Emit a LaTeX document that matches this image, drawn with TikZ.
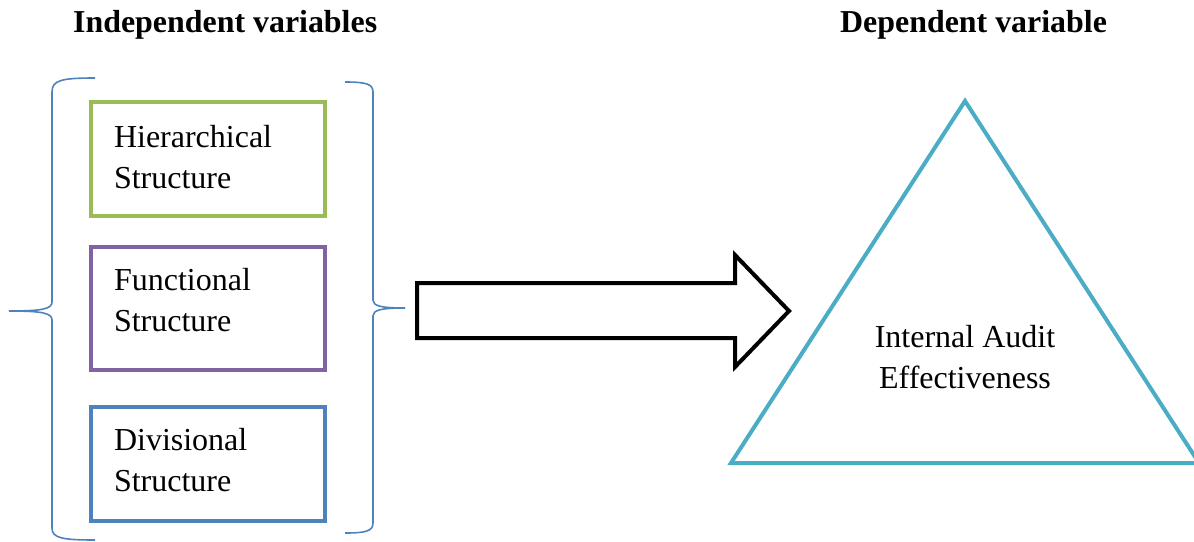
\documentclass[tikz,border=0pt]{standalone}
\usepackage{fontspec}
\setmainfont{Liberation Serif}
\definecolor{cgreen}{HTML}{9BBB59}
\definecolor{cpurple}{HTML}{8064A2}
\definecolor{cblue}{HTML}{4F81BD}
\definecolor{cteal}{HTML}{4BACC6}
\begin{document}
\begin{tikzpicture}[x=1pt,y=-1pt,
  header/.style={font=\fontsize{31.9}{36}\selectfont\bfseries, anchor=base west, inner sep=0pt},
  varbox/.style={draw=#1, line width=4pt, anchor=base west, align=left,
    text width=188pt, inner xsep=23pt, inner ysep=0pt,
    font=\fontsize{32}{41.5}\selectfont},
  brace/.style={draw=cblue, line width=1.6pt},
  bigarrow/.style={draw=black, line width=4pt, fill=white, line join=miter},
  tri/.style={draw=cteal, line width=4pt, line join=miter}]
\useasboundingbox (0,0) rectangle (1194,541);

\node[header] (hind) at (73,32) {Independent variables};
\node[header] (hdep) at (840,32) {Dependent variable};

\node[varbox=cgreen, text height=45pt, text depth=69pt] (hs) at (89,147) {Hierarchical\\Structure};
\node[varbox=cpurple, text height=43pt, text depth=80pt] (fs) at (89,290) {Functional\\Structure};
\node[varbox=cblue, text height=43pt, text depth=71pt] (ds) at (89,450) {Divisional\\Structure};

% left brace
\draw[brace] (95,78) .. controls (62,78) and (52,80) .. (52,92) -- (52,302)
  .. controls (52,309) and (42,311) .. (9,311)
  .. controls (42,311) and (52,313) .. (52,320) -- (52,528)
  .. controls (52,538) and (62,540) .. (95,540);
% right brace
\draw[brace] (345,82) .. controls (366,82) and (373,84) .. (373,92) -- (373,300)
  .. controls (373,306) and (381,308) .. (405,308)
  .. controls (381,308) and (373,310) .. (373,316) -- (373,523)
  .. controls (373,531) and (366,533) .. (345,533);

% block arrow
\coordinate (a1) at (417,283);
\coordinate (a2) at (735,283);
\coordinate (a3) at (735,255);
\coordinate (atip) at (789,311);
\coordinate (a5) at (735,367);
\coordinate (a6) at (735,338);
\coordinate (a7) at (417,338);
\draw[bigarrow] (a1) -- (a2) -- (a3) -- (atip) -- (a5) -- (a6) -- (a7) -- cycle;

% triangle
\coordinate (tA) at (965,101);
\coordinate (tL) at (731,463);
\coordinate (tR) at (1199,463);
\draw[tri] (tA) -- (tL) -- (tR) -- cycle;
\node[anchor=base, align=center, inner sep=0pt, font=\fontsize{32}{41}\selectfont] (iae) at (965,388) {Internal Audit\\Effectiveness};
\end{tikzpicture}
\end{document}
